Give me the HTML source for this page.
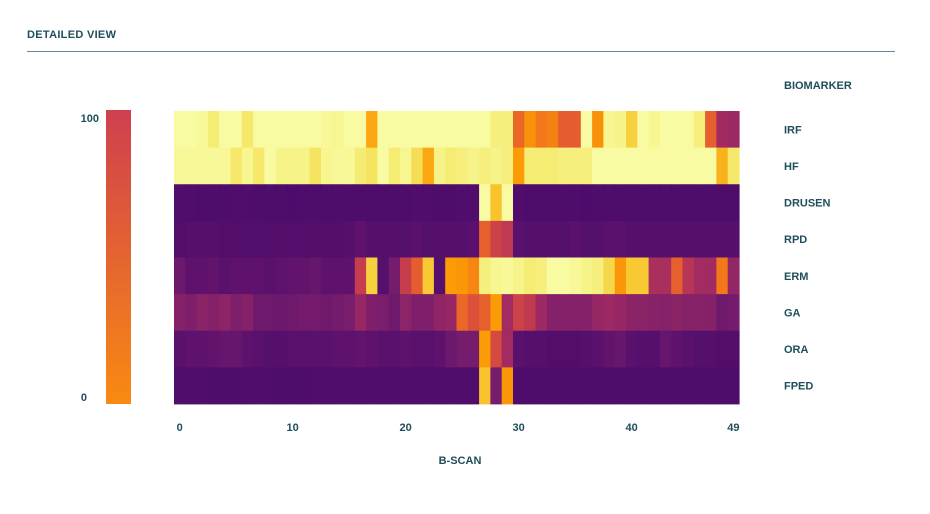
<!DOCTYPE html>
<html><head><meta charset="utf-8">
<style>
html,body{margin:0;padding:0;background:#fff;}
body{width:930px;height:514px;position:relative;overflow:hidden;font-family:"Liberation Sans",sans-serif;}
.t{position:absolute;font-weight:bold;color:#1f4e5b;font-size:11px;letter-spacing:0.3px;}
</style></head>
<body>
<div class="t" style="left:27px;top:29px;font-size:11px;">DETAILED VIEW</div>
<div style="position:absolute;left:27px;top:51px;width:868px;height:1px;background:#5f8a92;"></div>
<svg id="chart" width="930" height="514" style="position:absolute;left:0;top:0;" xmlns="http://www.w3.org/2000/svg">
<defs><linearGradient id="cb" x1="0" y1="0" x2="0" y2="1"><stop offset="0" stop-color="#cf3f4f"/><stop offset="1" stop-color="#f98a12"/></linearGradient></defs>
<rect x="106" y="110" width="25" height="294" fill="url(#cb)"/>
<text x="99" y="122" text-anchor="end" font-family="Liberation Sans, sans-serif" font-weight="bold" font-size="11" fill="#1f4e5b">100</text>
<text x="87" y="401" text-anchor="end" font-family="Liberation Sans, sans-serif" font-weight="bold" font-size="11" fill="#1f4e5b">0</text>
<text x="784" y="89" font-family="Liberation Sans, sans-serif" font-weight="bold" font-size="11" fill="#1f4e5b">BIOMARKER</text>
<text x="460" y="464" text-anchor="middle" font-family="Liberation Sans, sans-serif" font-weight="bold" font-size="11" fill="#1f4e5b">B-SCAN</text>
<g id="cells"></g><g id="labels"></g>
</svg>
<script>
const rows = ["IRF","HF","DRUSEN","RPD","ERM","GA","ORA","FPED"];
const xTicks = [0,10,20,30,40,49];
const irf = [97,97,96,92,97,97,91,97,97,97,97,97,97,96,95,97,97,80,97,97,97,97,97,97,97,97,97,97,93,93,65,76,70,72,62,62,97,76,95,94,87,97,95,97,97,97,93,63,40,38];
const hf = [96,96,96,96,96,91,95,91,97,94,94,94,90,95,96,96,92,90,97,92,95,89,80,94,92,93,94,93,94,93,78,92,92,92,93,93,93,97,97,97,97,97,97,97,97,97,97,97,82,91];
const drusen = [5,5,4,4,4,5,5,4,4,4,3,4,4,4,4,4,4,4,4,4,4,5,5,4,4,5,5,97,85,97,5,4,4,4,4,4,3,4,4,4,4,4,4,4,4,4,4,4,4,4];
const rpd = [8,10,10,10,8,8,8,7,8,8,8,8,8,8,8,10,14,10,10,10,10,12,10,10,10,10,12,63,52,48,12,10,10,10,10,12,10,10,12,12,10,10,10,10,10,10,10,10,10,10];
const erm = [20,14,14,16,12,14,14,14,12,14,16,16,18,14,14,14,50,87,10,25,50,62,86,10,78,77,73,93,95,96,94,92,93,97,97,96,94,93,88,77,86,86,42,42,63,46,40,40,70,35];
const ga = [30,28,32,30,33,28,30,22,22,20,22,24,24,22,24,26,36,28,26,22,33,28,28,34,36,65,58,63,78,40,52,48,38,30,30,30,30,36,38,36,32,32,31,30,32,30,31,30,22,24];
const ora = [12,14,14,16,18,18,14,12,10,10,12,12,12,12,14,14,16,14,12,12,14,12,12,14,20,25,25,78,55,40,12,10,10,8,8,8,10,12,16,18,12,10,10,18,14,12,10,10,8,8];
const fped = [5,5,5,4,4,4,5,5,5,4,4,4,5,5,5,5,5,5,5,5,5,5,5,5,5,5,5,85,25,77,4,4,4,4,4,4,4,4,4,4,4,4,4,4,4,4,4,4,4,4];
const series = [irf,hf,drusen,rpd,erm,ga,ora,fped];

const X0=174, X1=739, Y0=111, Y1=404;
const nCols = irf.length;
const cw = (X1-X0)/nCols, rh=(Y1-Y0)/rows.length;
function xPos(i){return X0+i*cw;}
function yPos(r){return Y0+r*rh;}
const stops=[[0,[74,11,106]],[10,[85,15,109]],[25,[118,28,109]],[40,[162,43,97]],[50,[198,61,77]],[60,[225,86,53]],[70,[243,120,25]],[78,[251,155,6]],[86,[248,201,50]],[90,[244,228,96]],[94,[246,243,136]],[97,[249,251,162]],[100,[252,255,166]]];
function color(v){
  for(let i=1;i<stops.length;i++){
    if(v<=stops[i][0]){const a=stops[i-1],b=stops[i];const t=(v-a[0])/(b[0]-a[0]);
      const c=a[1].map((x,k)=>Math.round(x+(b[1][k]-x)*t));return `rgb(${c[0]},${c[1]},${c[2]})`;}
  }
  return 'rgb(252,255,166)';
}
const NS="http://www.w3.org/2000/svg";
const cells=document.getElementById('cells'), labels=document.getElementById('labels');
series.forEach((arr,r)=>{
  arr.forEach((v,i)=>{
    const el=document.createElementNS(NS,'rect');
    el.setAttribute('x',xPos(i)); el.setAttribute('y',yPos(r));
    el.setAttribute('width',cw+0.6); el.setAttribute('height',rh+0.4);
    el.setAttribute('fill',color(v));
    
    
    cells.appendChild(el);
  });
  const t=document.createElementNS(NS,'text');
  t.setAttribute('x',784); t.setAttribute('y',yPos(r)+rh/2+4);
  t.setAttribute('font-family','Liberation Sans, sans-serif'); t.setAttribute('font-weight','bold');
  t.setAttribute('font-size','11'); t.setAttribute('fill','#1f4e5b');
  t.textContent=rows[r];
  
  
  labels.appendChild(t);
});
xTicks.forEach(v=>{
  const t=document.createElementNS(NS,'text');
  t.setAttribute('x',xPos(v)+cw/2); t.setAttribute('y',431);
  t.setAttribute('text-anchor','middle');
  t.setAttribute('font-family','Liberation Sans, sans-serif'); t.setAttribute('font-weight','bold');
  t.setAttribute('font-size','11'); t.setAttribute('fill','#1f4e5b');
  t.textContent=v;
  
  
  labels.appendChild(t);
});
</script>
</body></html>
